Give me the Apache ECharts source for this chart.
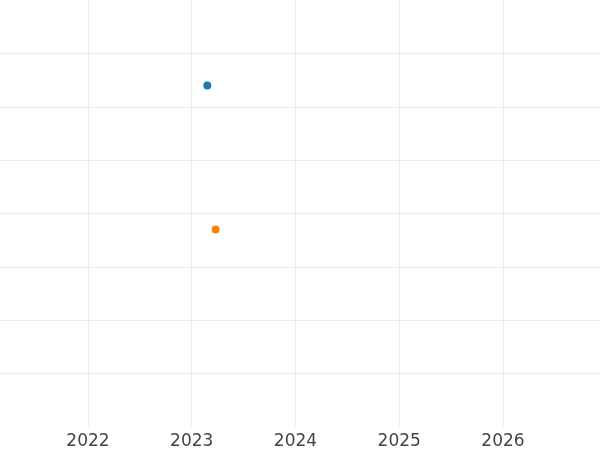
<!DOCTYPE html>
<html>
<head>
<meta charset="utf-8">
<script src="https://cdn.jsdelivr.net/npm/echarts@6/dist/echarts.min.js"></script>
<style>
  html, body { margin: 0; padding: 0; background: #fff; }
  #chart { width: 600px; height: 450px; }
</style>
</head>
<body>
<div id="chart"></div>
<script>
// x as fractional year, y as plotted value (axis labels hidden in the original)
var blueX = [2023.15]
var blueY = [6.4]
var orangeX = [2023.23]
var orangeY = [3.7]
var xTicks = [2022, 2023, 2024, 2025, 2026]
var yTicks = [1, 2, 3, 4, 5, 6, 7]

var chart = echarts.init(document.getElementById('chart'))
var option = {
  animation: false,
  backgroundColor: '#fff',
  grid: {
    left: 0,
    right: 0,
    top: 0,
    bottom: 23
  },
  xAxis: {
    type: 'value',
    min: 2021.152,
    max: 2026.935,
    axisLine: { show: false },
    axisTick: { show: false, customValues: xTicks },
    splitLine: { lineStyle: { color: '#ebebeb', width: 1 } },
    axisLabel: {
      customValues: xTicks,
      margin: 6,
      color: '#444',
      fontFamily: 'DejaVu Sans',
      fontSize: 17,
      formatter: function (v) { return String(v) }
    }
  },
  yAxis: {
    type: 'value',
    min: 0,
    max: 8,
    axisLine: { show: false },
    axisTick: { show: false, customValues: yTicks },
    axisLabel: { show: false, customValues: yTicks },
    splitLine: { lineStyle: { color: '#ebebeb', width: 1 } }
  },
  series: [
    {
      type: 'scatter',
      symbolSize: 8,
      itemStyle: { color: '#1f77b4', opacity: 1 },
      data: blueX.map(function (x, i) { return [x, blueY[i]] })
    },
    {
      type: 'scatter',
      symbolSize: 8,
      itemStyle: { color: '#ff7f0e', opacity: 1 },
      data: orangeX.map(function (x, i) { return [x, orangeY[i]] })
    }
  ]
}
chart.setOption(option)
</script>
</body>
</html>
